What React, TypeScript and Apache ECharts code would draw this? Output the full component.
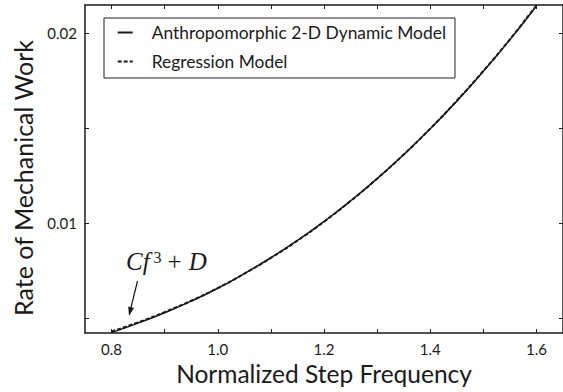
import React, { useEffect, useRef } from "react";
import * as echarts from "echarts";

const freq = [0.8, 0.85, 0.9, 0.95, 1.0, 1.05, 1.1, 1.15, 1.2, 1.25, 1.3, 1.35, 1.4, 1.45, 1.5, 1.55, 1.6];
const dynamicModel = [0.00422, 0.00472, 0.00527, 0.00588, 0.00656, 0.00733, 0.00817, 0.00908, 0.01008, 0.01117, 0.01234, 0.01361, 0.01497, 0.01643, 0.018, 0.01967, 0.02145];
const regressionModel = [0.00428, 0.00476, 0.0053, 0.0059, 0.00657, 0.00733, 0.00816, 0.00907, 0.01007, 0.01116, 0.01234, 0.01361, 0.01498, 0.01645, 0.01802, 0.01969, 0.02148];
const xTicks = [0.8, 0.9, 1.0, 1.1, 1.2, 1.3, 1.4, 1.5, 1.6];
const xLabels = [0.8, 1.0, 1.2, 1.4, 1.6];
const yTicks = [0.005, 0.01, 0.015, 0.02];
const yLabels = [0.01, 0.02];
const seriesNames = ["Anthropomorphic 2-D Dynamic Model", "Regression Model"];

const FONT = "Lato";
const INK = "#1a1a1a";

export default function App() {
  const ref = useRef<HTMLDivElement>(null);
  useEffect(() => {
    if (!ref.current) return;
    const chart = echarts.init(ref.current, null, { renderer: "svg" });
    const tipX = 129, tipY = 316;
    const option = {
      animation: false,
      backgroundColor: "#ffffff",
      color: [INK, INK],
      grid: { left: 85, top: 5, right: -2, bottom: 59 },
      legend: {
        orient: "vertical",
        left: 104,
        top: 18,
        data: seriesNames,
        itemWidth: 15,
        itemHeight: 14,
        itemGap: 12,
        padding: [6, 9, 8, 12.7],
        borderColor: "#222",
        borderWidth: 1,
        backgroundColor: "#fff",
        itemStyle: { opacity: 0 },
        textStyle: { fontFamily: FONT, fontSize: 17.4, color: INK, padding: [0, 0, 0, 14] },
      },
      xAxis: [
        {
          type: "value",
          min: 0.75,
          max: 1.65,
          name: "Normalized Step Frequency",
          nameLocation: "middle",
          nameGap: 27,
          nameTextStyle: { fontFamily: FONT, fontSize: 24.5, color: INK },
          axisLine: { show: true, lineStyle: { color: INK, width: 1.5 } },
          axisTick: { show: true, inside: true, length: 4, customValues: xTicks, lineStyle: { color: INK, width: 1 } },
          axisLabel: {
            customValues: xLabels,
            fontFamily: FONT,
            fontSize: 15,
            color: INK,
            margin: 8,
            formatter: (v: number) => v.toFixed(1),
          },
          splitLine: { show: false },
        },
        {
          type: "value",
          position: "top",
          min: 0.75,
          max: 1.65,
          axisLine: { show: true, lineStyle: { color: INK, width: 1.5 } },
          axisTick: { show: true, inside: true, length: 4, customValues: xTicks, lineStyle: { color: INK, width: 1 } },
          axisLabel: { show: false },
          splitLine: { show: false },
        },
      ],
      yAxis: [
        {
          type: "value",
          min: 0.0042,
          max: 0.0215,
          name: "Rate of Mechanical Work",
          nameLocation: "middle",
          nameGap: 50,
          nameTextStyle: { fontFamily: FONT, fontSize: 25, color: INK, padding: [0, 18, 0, 0] },
          axisLine: { show: true, lineStyle: { color: INK, width: 1.5 } },
          axisTick: { show: true, inside: true, length: 4, customValues: yTicks, lineStyle: { color: INK, width: 1 } },
          axisLabel: {
            customValues: yLabels,
            fontFamily: FONT,
            fontSize: 15,
            color: INK,
            margin: 8,
            formatter: (v: number) => v.toFixed(2),
          },
          splitLine: { show: false },
        },
        {
          type: "value",
          position: "right",
          min: 0.0042,
          max: 0.0215,
          axisLine: { show: true, lineStyle: { color: INK, width: 1.5 } },
          axisTick: { show: true, inside: true, length: 4, customValues: yTicks, lineStyle: { color: INK, width: 1 } },
          axisLabel: { show: false },
          splitLine: { show: false },
        },
      ],
      series: [
        {
          name: seriesNames[0],
          type: "line",
          data: freq.map((f, i) => [f, dynamicModel[i]]),
          smooth: true,
          symbol: "none",
          clip: true,
          itemStyle: { color: INK },
          lineStyle: { color: INK, width: 1.5, type: "solid" },
          z: 3,
        },
        {
          name: seriesNames[1],
          type: "line",
          data: freq.map((f, i) => [f, regressionModel[i]]),
          smooth: true,
          symbol: "none",
          clip: true,
          itemStyle: { color: INK },
          lineStyle: { color: INK, width: 2, type: [4, 2] },
          z: 4,
        },
      ],
      graphic: [
        {
          type: "text",
          left: 126,
          top: 249,
          style: {
            text: "{i|Cf}{s|3}{n|+}{i|D}",
            rich: {
              i: { fontFamily: "Liberation Serif", fontStyle: "italic", fontSize: 25, fill: INK },
              n: { fontFamily: "Liberation Serif", fontSize: 25, fill: INK, padding: [0, 7, 0, 6] },
              s: { fontFamily: "Liberation Serif", fontSize: 16, fill: INK, verticalAlign: "top", padding: [0, 0, 8, 4] },
            },
          },
        },
        {
          type: "line",
          shape: { x1: 137.5, y1: 281, x2: 130.6, y2: 309 },
          style: { stroke: INK, lineWidth: 1.2 },
        },
        {
          type: "polygon",
          shape: { points: [[tipX, tipY], [134.0, 307.9], [128.2, 306.5]] },
          style: { fill: INK },
        },
      ],
    };
    chart.setOption(option as any);
    return () => chart.dispose();
  }, []);
  return <div ref={ref} style={{ position: "fixed", left: 0, top: 0, width: 563, height: 392 }} />;
}
